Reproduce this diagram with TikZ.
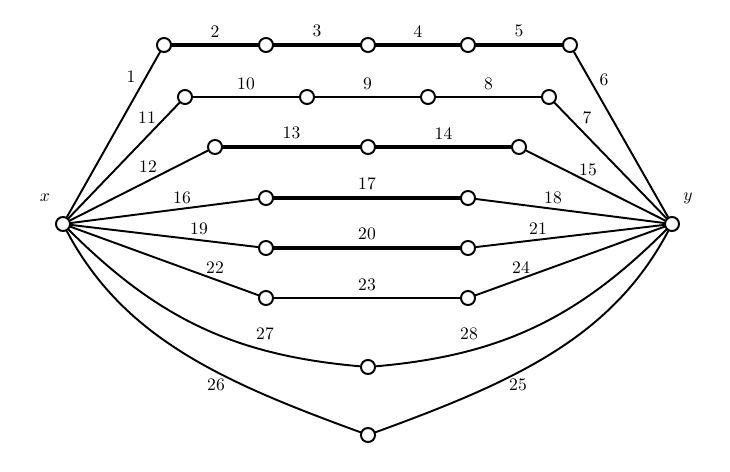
\documentclass[tikz,border=0pt]{standalone}
\usepackage{amsmath,amssymb}
\usepackage{xcolor}
\usepackage{tikz}
\usetikzlibrary{calc}
\tikzset{
  vtx/.style={circle, draw=black, fill=white, line width=1.1pt, minimum size=8pt, inner sep=0pt},
  edge/.style={draw=black, line width=1.1pt, line cap=round, line join=round},
  thickedge/.style={draw=black, line width=2pt, line cap=round, line join=round},
  lab/.style={text=black},
}
\begin{document}
\begin{tikzpicture}
  \useasboundingbox (0,0) rectangle (14.6,9.44);

  % end vertices
  \node[vtx] (x) at (1.26,4.96) {};
  \node[vtx] (y) at (13.44,4.96) {};
  \node[lab] (lx) at (0.90,5.48) {$x$};
  \node[lab] (ly) at (13.76,5.48) {$y$};

  % inner vertices, row by row
  \node[vtx] (a1) at (3.28,8.54) {};
  \node[vtx] (a2) at (5.32,8.54) {};
  \node[vtx] (a3) at (7.36,8.54) {};
  \node[vtx] (a4) at (9.36,8.54) {};
  \node[vtx] (a5) at (11.40,8.54) {};

  \node[vtx] (b1) at (3.70,7.50) {};
  \node[vtx] (b2) at (6.14,7.50) {};
  \node[vtx] (b3) at (8.56,7.50) {};
  \node[vtx] (b4) at (10.98,7.50) {};

  \node[vtx] (c1) at (4.30,6.50) {};
  \node[vtx] (c2) at (7.36,6.50) {};
  \node[vtx] (c3) at (10.38,6.50) {};

  \node[vtx] (d1) at (5.32,5.48) {};
  \node[vtx] (d2) at (9.36,5.48) {};
  \node[vtx] (e1) at (5.32,4.48) {};
  \node[vtx] (e2) at (9.36,4.48) {};
  \node[vtx] (f1) at (5.32,3.48) {};
  \node[vtx] (f2) at (9.36,3.48) {};

  \node[vtx] (g) at (7.36,2.10) {};
  \node[vtx] (h) at (7.36,0.74) {};

  % top path
  \draw[edge] (x) -- (a1);
  \draw[thickedge] (a1) -- node[lab, above] {2} (a2);
  \draw[thickedge] (a2) -- node[lab, above] {3} (a3);
  \draw[thickedge] (a3) -- node[lab, above] {4} (a4);
  \draw[thickedge] (a4) -- node[lab, above] {5} (a5);
  \draw[edge] (a5) -- (y);
  \node[lab] (l1) at (2.62,7.90) {1};
  \node[lab] (l6) at (12.08,7.84) {6};

  \draw[edge] (x) -- (b1);
  \draw[edge] (b1) -- node[lab, above] {10} (b2);
  \draw[edge] (b2) -- node[lab, above] {9} (b3);
  \draw[edge] (b3) -- node[lab, above] {8} (b4);
  \draw[edge] (b4) -- (y);
  \node[lab] (l11) at (2.94,7.08) {11};
  \node[lab] (l7) at (11.74,7.08) {7};

  \draw[edge] (x) -- (c1);
  \draw[thickedge] (c1) -- node[lab, above] {13} (c2);
  \draw[thickedge] (c2) -- node[lab, above] {14} (c3);
  \draw[edge] (c3) -- (y);
  \node[lab] (l12) at (2.96,6.10) {12};
  \node[lab] (l15) at (11.76,6.04) {15};

  \draw[edge] (x) -- (d1);
  \draw[thickedge] (d1) -- node[lab, above] {17} (d2);
  \draw[edge] (d2) -- (y);
  \node[lab] (l16) at (3.64,5.48) {16};
  \node[lab] (l18) at (11.06,5.48) {18};

  \draw[edge] (x) -- (e1);
  \draw[thickedge] (e1) -- node[lab, above] {20} (e2);
  \draw[edge] (e2) -- (y);
  \node[lab] (l19) at (3.98,4.86) {19};
  \node[lab] (l21) at (10.76,4.86) {21};

  \draw[edge] (x) -- (f1);
  \draw[edge] (f1) -- node[lab, above] {23} (f2);
  \draw[edge] (f2) -- (y);
  \node[lab] (l22) at (4.30,4.08) {22};
  \node[lab] (l24) at (10.42,4.08) {24};

  % lower arcs
  \draw[edge] (x) to[out=-45, in=175] (g);
  \draw[edge] (g) to[out=5, in=-135] (y);
  \node[lab] (l27) at (5.30,2.76) {27};
  \node[lab] (l28) at (9.38,2.76) {28};

  \draw[edge] (x) to[out=-62, in=160, out distance=2.4cm, in distance=3cm] (h);
  \draw[edge] (h) to[out=20, in=-118, out distance=3cm, in distance=2.4cm] (y);
  \node[lab] (l26) at (4.32,1.75) {26};
  \node[lab] (l25) at (10.36,1.75) {25};
\end{tikzpicture}
\end{document}
